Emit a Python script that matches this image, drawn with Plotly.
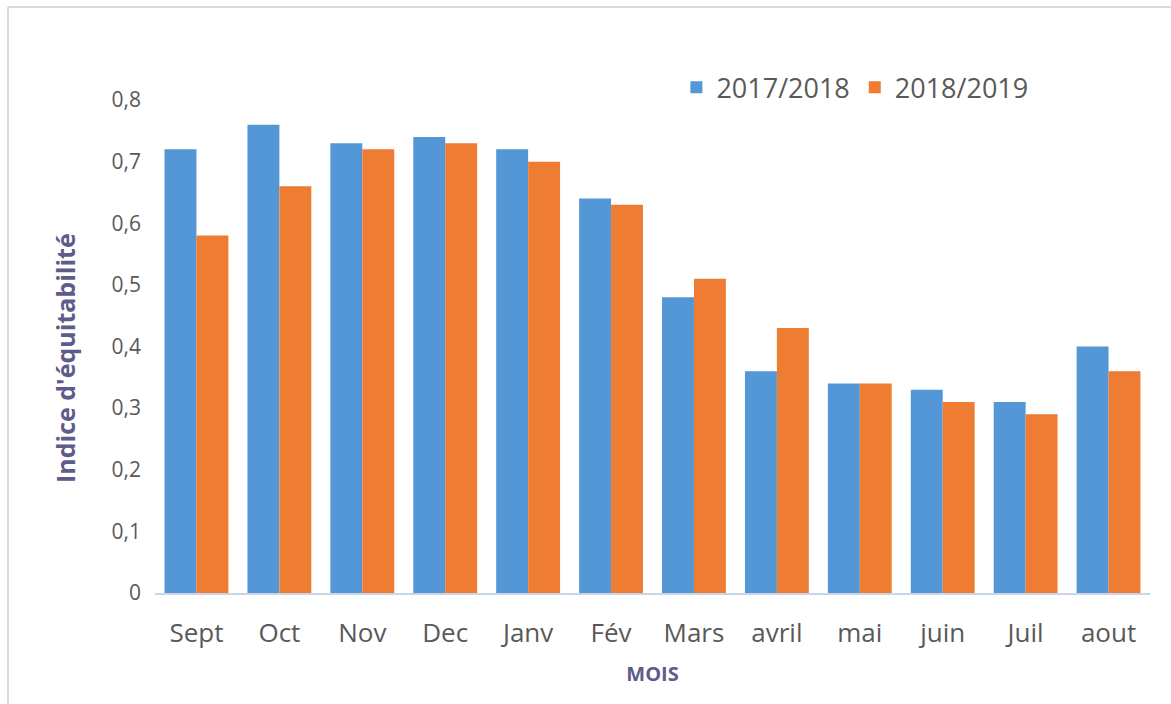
import plotly.graph_objects as go

# Months of the season
mois = ["Sept", "Oct", "Nov", "Dec", "Janv", "Fév", "Mars",
        "avril", "mai", "juin", "Juil", "aout"]

# Equitability index per season
saison_2017_2018 = [0.72, 0.76, 0.73, 0.74, 0.72, 0.64, 0.48,
                    0.36, 0.34, 0.33, 0.31, 0.40]
saison_2018_2019 = [0.58, 0.66, 0.72, 0.73, 0.70, 0.63, 0.51,
                    0.43, 0.34, 0.31, 0.29, 0.36]

y_ticks = [0, 0.1, 0.2, 0.3, 0.4, 0.5, 0.6, 0.7, 0.8]
y_tick_labels = ["0", "0,1", "0,2", "0,3", "0,4", "0,5", "0,6", "0,7", "0,8"]

BLUE = "#5397d7"
ORANGE = "#ee7c32"
TEXT = "#595959"
TITLE = "#5f5b8a"
FONT = "Open Sans, Lato, sans-serif"

fig = go.Figure()
fig.add_trace(go.Bar(x=mois, y=saison_2017_2018, name="2017/2018",
                     marker=dict(color=BLUE, line=dict(width=0))))
fig.add_trace(go.Bar(x=mois, y=saison_2018_2019, name="2018/2019",
                     marker=dict(color=ORANGE, line=dict(width=0))))

W, H = 1171, 704
ML, MR, MT, MB = 155, 21, 100, 111
pw, ph = W - ML - MR, H - MT - MB

# outer frame (top and left edges visible)
fx = (8 - ML) / pw
fy = (H - MB - 7) / ph
fig.add_shape(type="line", xref="paper", yref="paper", x0=fx, x1=1.1, y0=fy, y1=fy,
              line=dict(color="#d9d9de", width=2))
fig.add_shape(type="line", xref="paper", yref="paper", x0=fx, x1=fx, y0=fy, y1=-0.3,
              line=dict(color="#d9d9de", width=2))

# vertical y-axis title, placed slightly below the plot's mid-height
fig.add_annotation(text="<b>Indice d'équitabilité</b>", textangle=-90,
                   xref="paper", yref="paper",
                   x=(65 - ML) / pw, y=(H - MB - 358) / ph,
                   xanchor="center", yanchor="middle", showarrow=False,
                   font=dict(size=25, color=TITLE, family=FONT))

fig.update_layout(
    width=W, height=H,
    margin=dict(l=ML, r=MR, t=MT, b=MB, pad=0),
    paper_bgcolor="white", plot_bgcolor="white",
    barmode="group", bargap=0.23, bargroupgap=0,
    font=dict(family=FONT, color=TEXT),
    showlegend=True,
    legend=dict(orientation="h", x=0.524, y=1.025, xanchor="left", yanchor="middle",
                font=dict(size=27, color=TEXT, family=FONT),
                itemwidth=30, bgcolor="rgba(0,0,0,0)"),
    xaxis=dict(
        showgrid=False, showline=True, linecolor="#c9d6e8", linewidth=2,
        ticks="", tickfont=dict(size=26, color=TEXT), ticklabelstandoff=16,
        title=dict(text="<b>MOIS</b>", font=dict(size=20, color=TITLE), standoff=18),
    ),
    yaxis=dict(
        range=[0, 0.8], showgrid=False, zeroline=False, showline=False,
        tickvals=y_ticks, ticktext=y_tick_labels, ticks="",
        tickfont=dict(size=21, color=TEXT), ticklabelstandoff=13,
    ),
)

fig.write_html("out.html")
